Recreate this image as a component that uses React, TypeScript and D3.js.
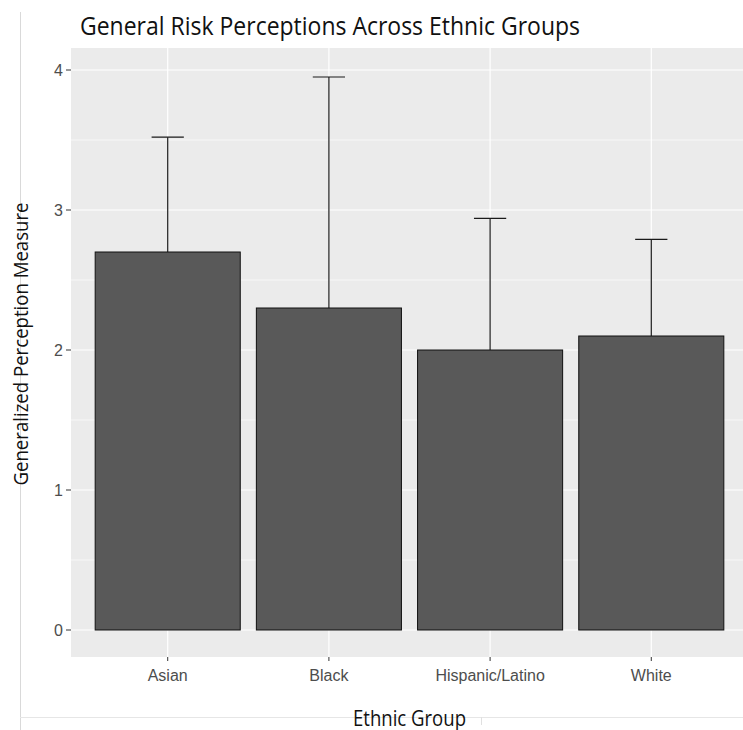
import React from "react";
import * as d3 from "d3";

const categories = ["Asian", "Black", "Hispanic/Latino", "White"];
const means = [2.7, 2.3, 2.0, 2.1];
const upperErr = [3.52, 3.95, 2.94, 2.79];
const yTicks = [0, 1, 2, 3, 4];
const yMinor = [0.5, 1.5, 2.5, 3.5];

export default function App() {
  const W = 743, H = 730;
  const panel = { left: 71, top: 48, right: 748, bottom: 657 };
  // discrete axis: positions 1..n with 0.6 expansion on each side
  const xc = d3.scaleLinear().domain([0.4, categories.length + 0.6]).range([panel.left, panel.right]);
  const unit = xc(2) - xc(1);
  const y = d3.scaleLinear().domain([0, 4]).range([630, 70]);
  const font = "'Liberation Sans', Arial, sans-serif";
  const tfont = "'Open Sans', sans-serif";
  return (
    <svg width={W} height={H} style={{ position: "absolute", left: 0, top: 0 }}>
      <rect x={0} y={0} width={W} height={H} fill="white" />
      <line x1={20.5} x2={20.5} y1={12} y2={H} stroke="#d9d9d9" strokeWidth={1} />
      <line x1={20} x2={W} y1={717.5} y2={717.5} stroke="#e6e6e6" strokeWidth={1} />
      <rect x={350} y={718} width={131} height={12} fill="white" />
      <line x1={481.5} x2={481.5} y1={717} y2={725} stroke="#e0e0e0" strokeWidth={1} />
      <g>
        <rect x={panel.left} y={panel.top} width={W - panel.left} height={panel.bottom - panel.top} fill="#EBEBEB" />
        {yMinor.map((t) => (
          <line key={"mn" + t} x1={panel.left} x2={W} y1={y(t)} y2={y(t)} stroke="white" strokeWidth={0.6} />
        ))}
        {yTicks.map((t) => (
          <line key={"mj" + t} x1={panel.left} x2={W} y1={y(t)} y2={y(t)} stroke="white" strokeWidth={1.2} />
        ))}
        {categories.map((c, i) => (
          <line key={"vx" + c} x1={xc(i + 1)} x2={xc(i + 1)} y1={panel.top} y2={panel.bottom} stroke="white" strokeWidth={1.2} />
        ))}
        {categories.map((c, i) => (
          <g key={"eb" + c}>
            <line x1={xc(i + 1)} x2={xc(i + 1)} y1={y(means[i])} y2={y(upperErr[i])} stroke="#1a1a1a" strokeWidth={1.2} />
            <line x1={xc(i + 1) - unit * 0.1} x2={xc(i + 1) + unit * 0.1} y1={y(upperErr[i])} y2={y(upperErr[i])} stroke="#1a1a1a" strokeWidth={1.2} />
          </g>
        ))}
        {categories.map((c, i) => (
          <rect
            key={"bar" + c}
            x={xc(i + 1) - unit * 0.45}
            y={y(means[i])}
            width={unit * 0.9}
            height={y(0) - y(means[i])}
            fill="#595959"
            stroke="#111"
            strokeWidth={1}
          />
        ))}
      </g>
      {yTicks.map((t) => (
        <g key={"yt" + t}>
          <line x1={panel.left - 5} x2={panel.left} y1={y(t)} y2={y(t)} stroke="#333" strokeWidth={1} />
          <text x={63} y={y(t)} dy="0.36em" textAnchor="end" fontSize={16} fill="#4D4D4D" fontFamily={font}>
            {t}
          </text>
        </g>
      ))}
      {categories.map((c, i) => (
        <g key={"xt" + c}>
          <line x1={xc(i + 1)} x2={xc(i + 1)} y1={panel.bottom} y2={panel.bottom + 4} stroke="#333" strokeWidth={1} />
          <text x={xc(i + 1)} y={681} textAnchor="middle" fontSize={16} fill="#4D4D4D" fontFamily={font}>
            {c}
          </text>
        </g>
      ))}
      <text x={80} y={34.5} fontSize={25} fill="#111" fontFamily={tfont} textLength={500} lengthAdjust="spacingAndGlyphs">
        General Risk Perceptions Across Ethnic Groups
      </text>
      <text
        transform={`translate(27.5, 344) rotate(-90)`}
        textAnchor="middle"
        fontSize={20}
        fill="#111"
        fontFamily={tfont}
        textLength={283}
        lengthAdjust="spacingAndGlyphs"
      >
        Generalized Perception Measure
      </text>
      <text x={409.5} y={725.5} textAnchor="middle" fontSize={22} fill="#111" fontFamily={tfont} textLength={113} lengthAdjust="spacingAndGlyphs">
        Ethnic Group
      </text>
    </svg>
  );
}
